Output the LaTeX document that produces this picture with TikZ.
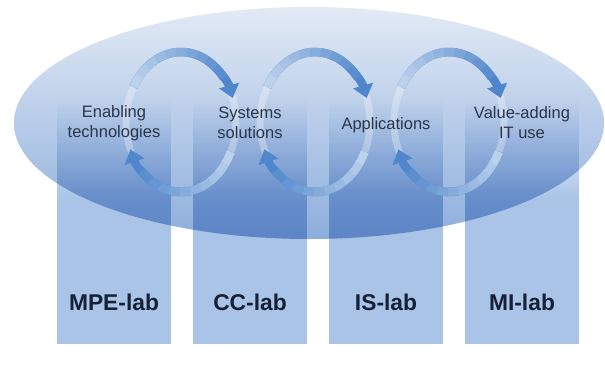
\documentclass[tikz,border=0pt]{standalone}
\usepackage{fontspec}
\setmainfont{Liberation Sans}
\usetikzlibrary{arrows.meta,fadings}

\definecolor{colfill}{HTML}{A9C4E6}
\definecolor{ovaltop}{HTML}{E2EAF5}
\definecolor{ovalmid}{HTML}{CBDAEE}
\definecolor{ovalbot}{HTML}{8DAEDC}
\definecolor{arrowdark}{HTML}{4F86CC}
\definecolor{arrowlight}{HTML}{BCD1EC}
\definecolor{labtext}{HTML}{162036}
\definecolor{topictext}{HTML}{2C3548}

\begin{document}
\begin{tikzpicture}[x=1pt, y=1pt,
    topic/.style={align=center, text=topictext, font=\fontsize{16.5}{20}\selectfont},
    lab/.style={text=labtext, font=\fontsize{22.8}{26}\selectfont\bfseries},
    ring/.style={draw=white, line width=7pt, opacity=0.3},
    cyclearrow/.style={line width=8.5pt, draw=arrowdark, -{Triangle[width=20pt, length=13pt]}}]

    \useasboundingbox (0,0) rectangle (605,365);

    % lab columns, fading out towards the top
    \foreach \x in {57,193,329,465} {
        \fill[colfill] (\x,21) rectangle ++(114,145);
        \fill[colfill, path fading=north] (\x,165) rectangle ++(114,100);
    }

    % the oval lies over the columns
    \begin{scope}[blend mode=multiply]
        \shade[top color=ovaltop, middle color=ovalmid, bottom color=ovalbot]
            (309,242) ellipse [x radius=295, y radius=116];
    \end{scope}

    % one cycle between each pair of fields
    \foreach \i/\cx in {1/181,2/315,3/449} {
        \coordinate (loop\i) at (\cx,243);
        \draw[ring] (loop\i) ellipse [x radius=55, y radius=70];

        % upper arrow, left to right
        \draw[cyclearrow] ([shift={(150:55 and 70)}]loop\i)
            arc [start angle=150, end angle=20, x radius=55, y radius=70];
        % lower arrow, right to left
        \draw[cyclearrow] ([shift={(-25:55 and 70)}]loop\i)
            arc [start angle=-25, end angle=-157, x radius=55, y radius=70];

        % light tails
        \foreach \k in {0,...,9} {
            \pgfmathtruncatemacro\m{\k*10}
            \pgfmathsetmacro\a{150-\k*11}
            \pgfmathsetmacro\b{-25-\k*11}
            \draw[line width=8.5pt, arrowdark!\m!arrowlight] ([shift={(\a:55 and 70)}]loop\i)
                arc [start angle=\a, delta angle=-12, x radius=55, y radius=70];
            \draw[line width=8.5pt, arrowdark!\m!arrowlight] ([shift={(\b:55 and 70)}]loop\i)
                arc [start angle=\b, delta angle=-12, x radius=55, y radius=70];
        }
    }

    \node[topic] (enabling) at (114,242) {Enabling\\technologies};
    \node[topic] (systems) at (250,242) {Systems\\solutions};
    \node[topic] (apps) at (386,240) {Applications};
    \node[topic] (value) at (522,242) {Value-adding\\IT use};

    \node[lab] (mpe) at (114,63) {MPE-lab};
    \node[lab] (cc) at (250,63) {CC-lab};
    \node[lab] (is) at (386,63) {IS-lab};
    \node[lab] (mi) at (522,63) {MI-lab};
\end{tikzpicture}
\end{document}
